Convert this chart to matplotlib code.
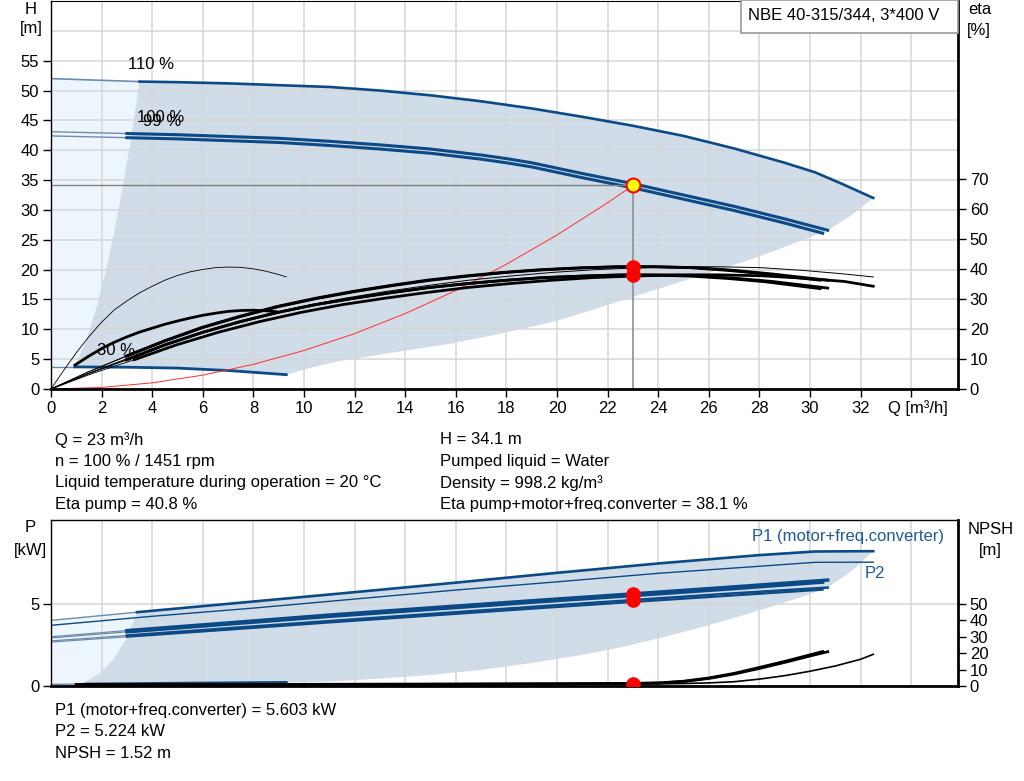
import matplotlib
matplotlib.use('Agg')
import matplotlib.pyplot as plt
from matplotlib.patches import Rectangle

plt.rcParams['font.family'] = ['Liberation Sans', 'DejaVu Sans']

# ---- QH curves (Q in m3/h, H in m) ----
q_110_ext = [0, 3.5]
h_110_ext = [52.0, 51.5]
q_110 = [3.5, 5, 7, 9, 11, 13, 15, 17, 19, 21, 23, 25, 27, 29, 30.2, 31.3, 32.5]
h_110 = [51.5, 51.4, 51.2, 50.9, 50.6, 50.0, 49.2, 48.2, 47.0, 45.6, 44.1, 42.4, 40.3, 37.9, 36.3, 34.3, 32.0]

q_100_ext = [0, 3]
h_100_ext = [43.1, 42.8]
q_100 = [3, 5, 7, 9, 11, 13, 15, 17, 18, 19, 21, 23, 25, 27, 29, 30.7]
h_100 = [42.8, 42.6, 42.3, 42.0, 41.5, 40.9, 40.2, 39.2, 38.6, 37.9, 36.1, 34.4, 32.5, 30.6, 28.5, 26.6]

q_99_ext = [0, 3]
h_99_ext = [42.4, 42.1]
q_99 = [3, 5, 7, 9, 11, 13, 15, 17, 18, 19, 21, 23, 25, 27, 29, 30.5]
h_99 = [42.1, 41.9, 41.6, 41.3, 40.8, 40.2, 39.5, 38.5, 37.9, 37.2, 35.4, 33.7, 31.8, 29.9, 27.8, 26.1]

q_30_ext = [0, 0.94]
h_30_ext = [3.7, 3.7]
q_30 = [0.94, 3, 5, 7, 9.3]
h_30 = [3.7, 3.65, 3.5, 3.1, 2.4]

# operating range limits
minq_q = [0.94, 1.38, 1.82, 2.18, 2.53, 2.84, 3.16, 3.5]
minq_h = [3.7, 8, 14, 20, 27, 34, 42, 51.5]
maxq_q = [9.3, 10.3, 11.3, 13.5, 15.8, 17.8, 20, 23, 25.5, 27.6, 29.5, 30.7, 31.6, 32.5]
maxq_h = [2.4, 3.6, 4.6, 6.1, 7.6, 9.3, 11.4, 15.4, 18.8, 21.6, 24.6, 26.6, 29.0, 32.0]

# system curve
sys_q = [0, 2, 4, 6, 8, 10, 12, 14, 16, 18, 20, 22, 23]
sys_h = [0, 0.26, 1.03, 2.32, 4.13, 6.45, 9.28, 12.63, 16.5, 20.9, 25.8, 31.2, 34.1]

# ---- efficiency curves (%) ----
eta_q_100 = [0, 1.5, 3, 4.5, 6, 7.5, 9, 10.5, 12, 13.5, 15, 16.5, 18, 19.5, 21, 22.5, 24, 25.5, 27, 28.5, 30.7]
eta_p_100 = [0, 5.8, 11, 16, 20.5, 24.2, 27.5, 30.2, 32.5, 34.5, 36.3, 37.7, 38.9, 39.8, 40.4, 40.8, 40.8, 40.5, 39.6, 38.4, 36.3]
eta_t_100 = [0, 5.2, 9.8, 14.7, 18.9, 22.5, 25.6, 28.2, 30.3, 32.2, 33.9, 35.2, 36.3, 37.2, 37.7, 38.1, 38.1, 37.8, 37.0, 35.9, 33.7]
eta_q_99 = [0, 1.49, 2.97, 4.46, 5.94, 7.43, 8.91, 10.4, 11.88, 13.37, 14.85, 16.34, 17.82, 19.31, 20.79, 22.28, 23.76, 25.25, 26.73, 28.22, 30.4]
eta_p_99 = [0, 5.8, 11, 16, 20.5, 24.2, 27.5, 30.2, 32.5, 34.5, 36.3, 37.7, 38.9, 39.8, 40.4, 40.8, 40.8, 40.5, 39.6, 38.4, 36.3]
eta_t_99 = [0, 5.1, 9.7, 14.6, 18.8, 22.4, 25.5, 28.1, 30.2, 32.1, 33.8, 35.1, 36.2, 37.1, 37.6, 38.0, 38.0, 37.7, 36.9, 35.8, 33.5]
eta_q_110 = [0, 1.65, 3.3, 4.95, 6.6, 8.25, 9.9, 11.55, 13.2, 14.85, 16.5, 18.15, 19.8, 21.45, 23.1, 24.75, 26.4, 28.05, 29.7, 31.35, 32.5]
eta_p_110 = [0, 5.8, 11, 16, 20.5, 24.2, 27.5, 30.2, 32.5, 34.5, 36.3, 37.7, 38.9, 39.8, 40.4, 40.8, 40.8, 40.5, 39.6, 38.4, 37.4]
eta_t_110 = [0, 5.2, 9.8, 14.7, 18.9, 22.5, 25.6, 28.2, 30.3, 32.2, 33.9, 35.2, 36.3, 37.2, 37.7, 38.1, 38.1, 37.8, 37.0, 35.9, 34.3]
eta_q_30p = [0, 0.5, 1, 1.5, 2, 2.5, 3, 3.5, 4, 4.5, 5, 5.5, 6, 6.5, 7, 7.5, 8, 8.5, 9, 9.3]
eta_p_30 = [0, 6.2, 12.1, 17.5, 22.3, 26.4, 29.4, 32.1, 34.3, 36.3, 37.9, 39.1, 39.9, 40.5, 40.7, 40.6, 40.1, 39.3, 38.2, 37.4]
eta_q_30t = [0.95, 1.5, 2, 2.5, 3, 3.5, 4, 4.5, 5, 5.5, 6, 6.5, 7, 7.5, 8, 8.5, 8.9]
eta_t_30 = [8.0, 11.0, 13.5, 15.6, 17.4, 19.0, 20.3, 21.6, 22.7, 23.7, 24.6, 25.3, 25.9, 26.2, 26.3, 26.1, 25.8]

# ---- power curves (kW) ----
p1_110_q = [0, 3.4, 8, 12, 16, 20, 24, 28, 30.2, 32.5]
p1_110 = [4.0, 4.5, 5.15, 5.72, 6.3, 6.9, 7.47, 7.98, 8.2, 8.22]
p2_110_q = [0, 4, 8, 12, 16, 20, 24, 28, 30.2, 32.5]
p2_110 = [3.7, 4.25, 4.75, 5.3, 5.85, 6.35, 6.87, 7.3, 7.54, 7.55]
p_q_100 = [0, 3, 7, 11, 15, 19, 23, 27, 30.7]
p1_100 = [3.0, 3.38, 3.85, 4.33, 4.77, 5.2, 5.62, 6.05, 6.46]
p2_100 = [2.75, 3.08, 3.52, 3.96, 4.39, 4.82, 5.24, 5.65, 6.0]
p_q_99 = [0, 3, 7, 11, 15, 19, 23, 27, 30.5]
p1_99 = [2.93, 3.3, 3.77, 4.24, 4.67, 5.1, 5.51, 5.93, 6.33]
p2_99 = [2.68, 3.0, 3.43, 3.87, 4.29, 4.71, 5.12, 5.52, 5.87]
p_30_q = [0, 1.4, 5, 9.3]
p_30 = [0.1, 0.12, 0.17, 0.22]

pmin_q = [1.0, 1.5, 2.0, 2.5, 3.0, 3.4]
pmin_p = [0.11, 0.37, 0.87, 1.7, 2.94, 4.5]
pmax_q = [9.3, 11, 13, 15, 17, 19, 21, 22.5, 24, 25.5, 27, 28.5, 30, 30.7, 31.7, 32.5]
pmax_p = [0.22, 0.27, 0.45, 0.67, 0.98, 1.4, 1.9, 2.35, 2.9, 3.5, 4.15, 4.85, 5.6, 6.0, 7.07, 8.22]

# ---- NPSH (m) ----
npsh_q_100 = [1, 5, 10, 15, 20, 22, 23, 24, 25, 26, 27, 28, 29, 30, 30.7]
npsh_100 = [0.9, 0.9, 1.0, 1.1, 1.3, 1.45, 1.52, 1.75, 2.7, 4.6, 7.3, 10.7, 14.4, 18.3, 20.9]
npsh_q_99 = [1, 5, 10, 15, 20, 22, 23, 24, 25, 26, 27, 28, 29, 30, 30.5]
npsh_99 = [0.9, 0.9, 1.0, 1.1, 1.35, 1.5, 1.6, 1.9, 2.9, 4.9, 7.7, 11.3, 15.0, 19.0, 21.0]
npsh_q_110 = [1, 10, 20, 24, 25, 26, 27, 28, 29, 30, 31, 32, 32.5]
npsh_110 = [0.9, 1.0, 1.1, 1.3, 1.5, 1.9, 2.6, 4.2, 6.3, 9.0, 12.2, 16.3, 19.3]

# duty point
op_q = 23
op_h = 34.1
op_eta_pump = 40.8
op_eta_total = 38.1
op_p1 = 5.603
op_p2 = 5.224
op_npsh = 1.52

BLUE = '#0b4a87'
BLUE_EXT = '#6d8cb0'
SHADE = '#d0dce8'
LIGHT = '#edf5fd'
GRID = '#d6d6d6'

W, H = 1024, 781
fs = 12


def fx(px):
    return px / W


def fy(py):
    return 1 - py / H


fig = plt.figure(figsize=(10.24, 7.81), dpi=100)
ax = fig.add_axes([fx(51), fy(389), fx(958) - fx(51), fy(1) - fy(389)])
ax2 = ax.twinx()
bx = fig.add_axes([fx(51), fy(686), fx(958) - fx(51), fy(520) - fy(686)])
bx2 = bx.twinx()

for a in (ax, ax2, bx, bx2):
    a.set_xlim(0, 35.85)
ax.set_ylim(0, 65)
ax2.set_ylim(0, 129.5)
bx.set_ylim(0, 10.12)
bx2.set_ylim(0, 101.2)

# ---------------- top chart ----------------
light_q = [0] + minq_q + [0]
light_h = [h_30_ext[0]] + minq_h + [h_110_ext[0]]
ax.fill(light_q, light_h, color=LIGHT, lw=0, zorder=0.2)
area_q = minq_q + q_110 + maxq_q[::-1] + q_30[::-1]
area_h = minq_h + h_110 + maxq_h[::-1] + h_30[::-1]
ax.fill(area_q, area_h, color=SHADE, lw=0, zorder=0.2)

ax.plot(q_110_ext, h_110_ext, color=BLUE_EXT, lw=1.2)
ax.plot(q_110, h_110, color=BLUE, lw=1.9)
ax.plot(q_100_ext, h_100_ext, color=BLUE_EXT, lw=1.0)
ax.plot(q_100, h_100, color=BLUE, lw=2.2)
ax.plot(q_99_ext, h_99_ext, color=BLUE_EXT, lw=1.0)
ax.plot(q_99, h_99, color=BLUE, lw=2.2)
ax.plot(q_30_ext, h_30_ext, color=BLUE_EXT, lw=1.0)
ax.plot(q_30, h_30, color=BLUE, lw=2.0)

ax.plot(sys_q, sys_h, color='#ff3030', lw=0.7)
ax.plot([0, op_q], [op_h, op_h], color='#808080', lw=1)
ax.plot([op_q, op_q], [0, op_h], color='#909090', lw=1.2)
ax.plot([op_q], [op_h], 'o', ms=10, mfc='#ffff00', mec='#ff0000', mew=1.5, zorder=10)

ax.text(3.04, 54.3, '110 %', fontsize=fs, va='center')
ax.text(3.4, 45.5, '100 %', fontsize=fs, va='center')
ax.text(3.64, 44.8, '99 %', fontsize=fs, va='center')
ax.text(1.82, 6.5, '30 %', fontsize=fs, va='center')

# efficiency
for q, e in ((eta_q_110, eta_t_110), (eta_q_100, eta_t_100), (eta_q_99, eta_t_99),
             (eta_q_100, eta_p_100), (eta_q_99, eta_p_99)):
    ax2.plot(q[:3], e[:3], color='black', lw=0.6)
    ax2.plot(q[2:], e[2:], color='black', lw=2.0)
ax2.plot(eta_q_110, eta_p_110, color='black', lw=0.7)
ax2.plot(eta_q_30p, eta_p_30, color='black', lw=0.6)
ax2.plot(eta_q_30t, eta_t_30, color='black', lw=2.0)
ax2.plot([op_q, op_q], [op_eta_pump, op_eta_total], 'o', color='red', ms=9.5, zorder=10)

ax.set_xticks(range(0, 35, 2))
ax.set_xticklabels([str(v) for v in range(0, 33, 2)] + [''])
ax.set_yticks(range(0, 56, 5))
ax.set_yticks([60, 65], minor=True)
ax.grid(True, which='both', color=GRID, lw=1.1)
ax.set_axisbelow(True)
ax.tick_params(which='minor', length=0)
ax.tick_params(which='major', direction='out', length=5.5, width=1, labelsize=fs, pad=3)
ax2.set_yticks(range(0, 71, 10))
ax2.tick_params(direction='out', length=5.5, width=1, labelsize=fs, pad=3)

ax.spines['right'].set_visible(False)
ax.spines['top'].set_linewidth(0.8)
ax.spines['left'].set_linewidth(1.0)
ax.spines['bottom'].set_linewidth(2.0)
for s in ('left', 'top', 'bottom'):
    ax2.spines[s].set_visible(False)
ax2.spines['right'].set_linewidth(2.0)

# ---------------- bottom chart ----------------
blight_q = [0] + pmin_q + [0]
blight_p = [p_30[0]] + pmin_p + [p1_110[0]]
bx.fill(blight_q, blight_p, color=LIGHT, lw=0, zorder=0.2)
barea_q = pmin_q + p1_110_q[1:] + pmax_q[::-1] + p_30_q[1:][::-1]
barea_p = pmin_p + p1_110[1:] + pmax_p[::-1] + p_30[1:][::-1]
bx.fill(barea_q, barea_p, color=SHADE, lw=0, zorder=0.2)

bx.plot(p1_110_q[:2], p1_110[:2], color=BLUE_EXT, lw=1.0)
bx.plot(p1_110_q[1:], p1_110[1:], color=BLUE, lw=1.9)
bx.plot(p2_110_q, p2_110, color=BLUE, lw=1.0)
for q, p, w in ((p_q_100, p1_100, 2.4), (p_q_99, p1_99, 2.4),
                (p_q_100, p2_100, 1.8), (p_q_99, p2_99, 1.5)):
    bx.plot(q[:2], p[:2], color=BLUE_EXT, lw=0.9)
    bx.plot(q[1:], p[1:], color=BLUE, lw=w)
bx.plot(p_30_q[:2], p_30[:2], color=BLUE_EXT, lw=1.0)
bx.plot(p_30_q[1:], p_30[1:], color=BLUE, lw=2.0)

bx2.plot(npsh_q_100, npsh_100, color='black', lw=2.0)
bx2.plot(npsh_q_99, npsh_99, color='black', lw=2.0)
bx2.plot(npsh_q_110, npsh_110, color='black', lw=1.2)

bx.plot([op_q, op_q], [op_p1, op_p2], 'o', color='red', ms=9.5, zorder=10)
bx2.plot([op_q], [op_npsh], 'o', color='red', ms=9.5, zorder=10)

bx.set_xticks(range(0, 35, 2))
bx.set_xticklabels([])
bx.tick_params(axis='x', length=0)
bx.set_yticks([0, 5])
bx.grid(True, color=GRID, lw=1.1)
bx.set_axisbelow(True)
bx.tick_params(axis='y', direction='out', length=5.5, width=1, labelsize=fs, pad=3)
bx2.set_yticks(range(0, 51, 10))
bx2.tick_params(direction='out', length=5.5, width=1, labelsize=fs, pad=3)

bx.spines['right'].set_visible(False)
bx.spines['top'].set_linewidth(1.0)
bx.spines['left'].set_linewidth(1.0)
bx.spines['bottom'].set_linewidth(2.0)
for s in ('left', 'top', 'bottom'):
    bx2.spines[s].set_visible(False)
bx2.spines['right'].set_linewidth(2.0)

fig.text(fx(752), fy(537), 'P1 (motor+freq.converter)', color='#1f5a96', fontsize=fs, ha='left', va='center')
fig.text(fx(865), fy(573), 'P2', color='#1f5a96', fontsize=fs, ha='left', va='center')

# ---------------- labels and texts ----------------
fig.text(fx(31), fy(9), 'H', fontsize=fs, ha='center', va='center')
fig.text(fx(31), fy(29), '[m]', fontsize=fs, ha='center', va='center')
fig.text(fx(968), fy(10), 'eta', fontsize=fs, ha='left', va='center')
fig.text(fx(967), fy(30), '[%]', fontsize=fs, ha='left', va='center')
fig.text(fx(888), fy(408), 'Q [m³/h]', fontsize=fs, ha='left', va='center')
fig.text(fx(30), fy(528), 'P', fontsize=fs, ha='center', va='center')
fig.text(fx(30), fy(550), '[kW]', fontsize=fs, ha='center', va='center')
fig.text(fx(968), fy(529), 'NPSH', fontsize=fs, ha='left', va='center')
fig.text(fx(990), fy(550), '[m]', fontsize=fs, ha='center', va='center')

fig.add_artist(Rectangle((fx(741), fy(33)), fx(958) - fx(741), fy(0) - fy(33),
                         transform=fig.transFigure, facecolor='white',
                         edgecolor='#9a9a9a', lw=1.2, zorder=20))
fig.text(fx(748), fy(15), 'NBE 40-315/344, 3*400 V', fontsize=fs, ha='left', va='center', zorder=21)

left_lines = ['Q = 23 m³/h', 'n = 100 % / 1451 rpm',
              'Liquid temperature during operation = 20 °C', 'Eta pump = 40.8 %']
right_lines = ['H = 34.1 m', 'Pumped liquid = Water', 'Density = 998.2 kg/m³',
               'Eta pump+motor+freq.converter = 38.1 %']
for i, t in enumerate(left_lines):
    fig.text(fx(55), fy(440 + i * 21.4), t, fontsize=fs, va='center')
for i, t in enumerate(right_lines):
    fig.text(fx(440), fy(440 + i * 21.4), t, fontsize=fs, va='center')

bottom_lines = ['P1 (motor+freq.converter) = 5.603 kW', 'P2 = 5.224 kW', 'NPSH = 1.52 m']
for i, t in enumerate(bottom_lines):
    fig.text(fx(55), fy(711 + i * 21), t, fontsize=fs, va='center')

fig.savefig('out.png', dpi=100)
